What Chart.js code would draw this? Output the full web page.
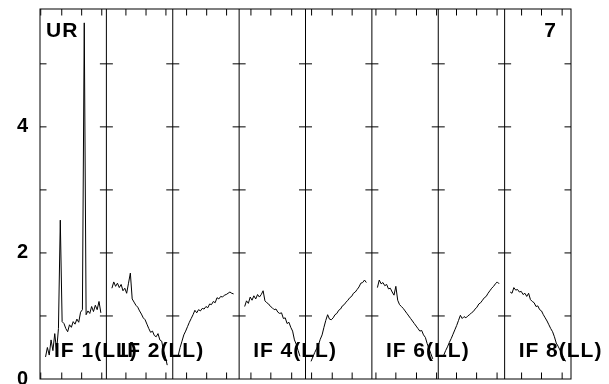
<!DOCTYPE html>
<html>
<head>
<meta charset="utf-8">
<script src="https://cdn.jsdelivr.net/npm/chart.js@4.4.1/dist/chart.umd.min.js"></script>
<style>
  html, body { margin: 0; padding: 0; background: #fff; }
  #wrap { width: 609px; height: 384px; }
</style>
</head>
<body>
<div id="wrap"><canvas id="possm"></canvas></div>
<script>
// one panel per IF, each PANEL_WIDTH channel units wide
const PANEL_WIDTH = 36;
const CHANNEL_OFFSET = 3;

const cornerLeft = "UR";
const cornerRight = "7";

const ifLabels = ["IF 1(LL)", "IF 2(LL)", "IF 4(LL)", "IF 6(LL)", "IF 8(LL)"];
const ifLabelPanels = [0, 1, 3, 5, 7];

// amplitude per channel
const if1 = [0.35, 0.50, 0.38, 0.62, 0.45, 0.72, 0.45, 0.80, 2.52, 0.91,
             0.88, 0.80, 0.75, 0.86, 0.82, 0.91, 0.87, 0.95, 0.90, 1.06,
             1.10, 5.65, 1.02, 1.08, 1.04, 1.15, 1.07, 1.17, 1.10, 1.23, 1.05];
const if2 = [1.44, 1.54, 1.47, 1.52, 1.45, 1.50, 1.40, 1.44, 1.36, 1.52,
             1.68, 1.27, 1.22, 1.17, 1.14, 1.08, 1.03, 0.97, 0.94, 0.87,
             0.80, 0.74, 0.76, 0.69, 0.67, 0.72, 0.62, 0.60, 0.45, 0.35, 0.22];
const if3 = [0.38, 0.50, 0.60, 0.70, 0.76, 0.83, 0.90, 0.96, 1.02, 1.09,
             1.05, 1.10, 1.08, 1.12, 1.11, 1.15, 1.13, 1.19, 1.18, 1.23,
             1.21, 1.29, 1.27, 1.31, 1.30, 1.33, 1.34, 1.36, 1.38, 1.36, 1.35];
const if4 = [1.15, 1.24, 1.20, 1.30, 1.25, 1.32, 1.27, 1.34, 1.30, 1.34,
             1.40, 1.24, 1.21, 1.19, 1.15, 1.13, 1.10, 1.11, 1.06, 1.04,
             1.05, 0.96, 0.97, 0.88, 0.90, 0.82, 0.76, 0.62, 0.55, 0.45, 0.36];
const if5 = [0.28, 0.35, 0.42, 0.48, 0.54, 0.63, 0.70, 0.82, 0.93, 1.02,
             0.95, 0.94, 0.97, 1.02, 1.04, 1.09, 1.11, 1.16, 1.18, 1.22,
             1.25, 1.29, 1.31, 1.36, 1.38, 1.42, 1.46, 1.52, 1.53, 1.57, 1.53];
const if6 = [1.45, 1.57, 1.51, 1.53, 1.48, 1.50, 1.43, 1.44, 1.38, 1.33,
             1.47, 1.25, 1.18, 1.15, 1.12, 1.08, 1.04, 1.00, 0.96, 0.92,
             0.88, 0.84, 0.80, 0.76, 0.77, 0.70, 0.66, 0.56, 0.48, 0.40, 0.32];
const if7 = [0.38, 0.45, 0.51, 0.58, 0.64, 0.71, 0.78, 0.85, 0.93, 1.01,
             0.96, 0.99, 0.97, 1.00, 1.02, 1.05, 1.07, 1.11, 1.14, 1.19,
             1.21, 1.25, 1.29, 1.31, 1.36, 1.40, 1.44, 1.47, 1.51, 1.54, 1.51];
const if8 = [1.38, 1.36, 1.45, 1.41, 1.42, 1.38, 1.39, 1.34, 1.36, 1.31,
             1.36, 1.26, 1.23, 1.21, 1.15, 1.16, 1.10, 1.08, 1.02, 0.97,
             0.92, 0.86, 0.80, 0.75, 0.67, 0.57, 0.52, 0.46, 0.40, 0.34, 0.28];

const panels = [if1, if2, if3, if4, if5, if6, if7, if8];

// tick marks along top and bottom edges, in channel units
const xTickValues = [0.4, 11.8, 22.6, 33.5, 46.6, 57.5, 68.3, 79.5, 90.4, 101.2,
                     114.4, 125.2, 136.5, 147.3, 158.5, 169.3, 182.2, 193.0, 204.2,
                     215.1, 225.9, 236.8, 247.9, 261.2, 272.0, 283.2];
const yTickValues = [0, 2, 4];
const yMinorTicks = [1, 2, 3, 4, 5];
const yMax = 5.87;

const fontFamily = "'Liberation Sans', Arial, sans-serif";
const labelFont = "bold 21px " + fontFamily;

const datasets = panels.map((values, p) => ({
    data: values.map((v, i) => ({ x: p * PANEL_WIDTH + CHANNEL_OFFSET + i, y: v })),
    borderColor: "#000",
    borderWidth: 1,
    pointRadius: 0,
    tension: 0,
    fill: false
}));

// draws text char by char with a little extra spacing
function spacedText(ctx, text, x, y, spacing, alignRight) {
    let total = 0;
    for (const c of text) total += ctx.measureText(c).width + spacing;
    let cx = alignRight ? x - total : x;
    for (const c of text) {
        ctx.fillText(c, cx, y);
        cx += ctx.measureText(c).width + spacing;
    }
}

const framePlugin = {
    id: "frame",
    afterDatasetsDraw(chart) {
        const ctx = chart.ctx;
        const area = chart.chartArea;
        const xs = chart.scales.x;
        const ys = chart.scales.y;
        const tick = 6.5;

        ctx.save();
        ctx.strokeStyle = "#000";
        ctx.lineWidth = 1;

        // outer frame
        ctx.strokeRect(area.left, area.top, area.right - area.left, area.bottom - area.top);

        // panel dividers
        for (let p = 1; p < panels.length; p++) {
            const x = xs.getPixelForValue(p * PANEL_WIDTH);
            ctx.beginPath();
            ctx.moveTo(x, area.top);
            ctx.lineTo(x, area.bottom);
            ctx.stroke();
        }

        // top and bottom ticks
        ctx.beginPath();
        xTickValues.forEach(v => {
            const x = xs.getPixelForValue(v);
            ctx.moveTo(x, area.top);
            ctx.lineTo(x, area.top + tick);
            ctx.moveTo(x, area.bottom);
            ctx.lineTo(x, area.bottom - tick);
        });
        ctx.stroke();

        // y ticks on frame sides and across dividers
        ctx.beginPath();
        yMinorTicks.forEach(v => {
            const y = ys.getPixelForValue(v);
            ctx.moveTo(area.left, y);
            ctx.lineTo(area.left + tick, y);
            ctx.moveTo(area.right, y);
            ctx.lineTo(area.right - tick, y);
            for (let p = 1; p < panels.length; p++) {
                const x = xs.getPixelForValue(p * PANEL_WIDTH);
                ctx.moveTo(x - tick, y);
                ctx.lineTo(x + tick, y);
            }
        });
        ctx.stroke();

        // texts
        ctx.fillStyle = "#000";
        ctx.font = labelFont;
        ctx.textBaseline = "alphabetic";
        ctx.textAlign = "left";
        spacedText(ctx, cornerLeft, area.left + 6, area.top + 28, 1, false);
        spacedText(ctx, cornerRight, area.right - 14, area.top + 28, 1, true);
        ifLabels.forEach((t, k) => {
            const x = xs.getPixelForValue(ifLabelPanels[k] * PANEL_WIDTH);
            spacedText(ctx, t, x + 14, area.bottom - 22, 1, false);
        });
        ctx.restore();
    }
};

new Chart(document.getElementById("possm"), {
    type: "line",
    data: { datasets },
    options: {
        responsive: true,
        maintainAspectRatio: false,
        animation: false,
        layout: { padding: { top: 9, right: 38, bottom: 5, left: 0 } },
        plugins: {
            legend: { display: false },
            tooltip: { enabled: false }
        },
        scales: {
            x: {
                type: "linear",
                min: 0,
                max: PANEL_WIDTH * panels.length,
                display: false
            },
            y: {
                min: 0,
                max: yMax,
                grid: { display: false, drawTicks: false },
                border: { display: false },
                ticks: {
                    color: "#000",
                    padding: 12,
                    font: { family: fontFamily, size: 20, weight: "bold" }
                },
                afterBuildTicks(scale) {
                    scale.ticks = yTickValues.map(v => ({ value: v }));
                },
                afterFit(scale) {
                    scale.width = 40;
                    scale.paddingTop = 0;
                    scale.paddingBottom = 0;
                }
            }
        }
    },
    plugins: [framePlugin]
});
</script>
</body>
</html>
